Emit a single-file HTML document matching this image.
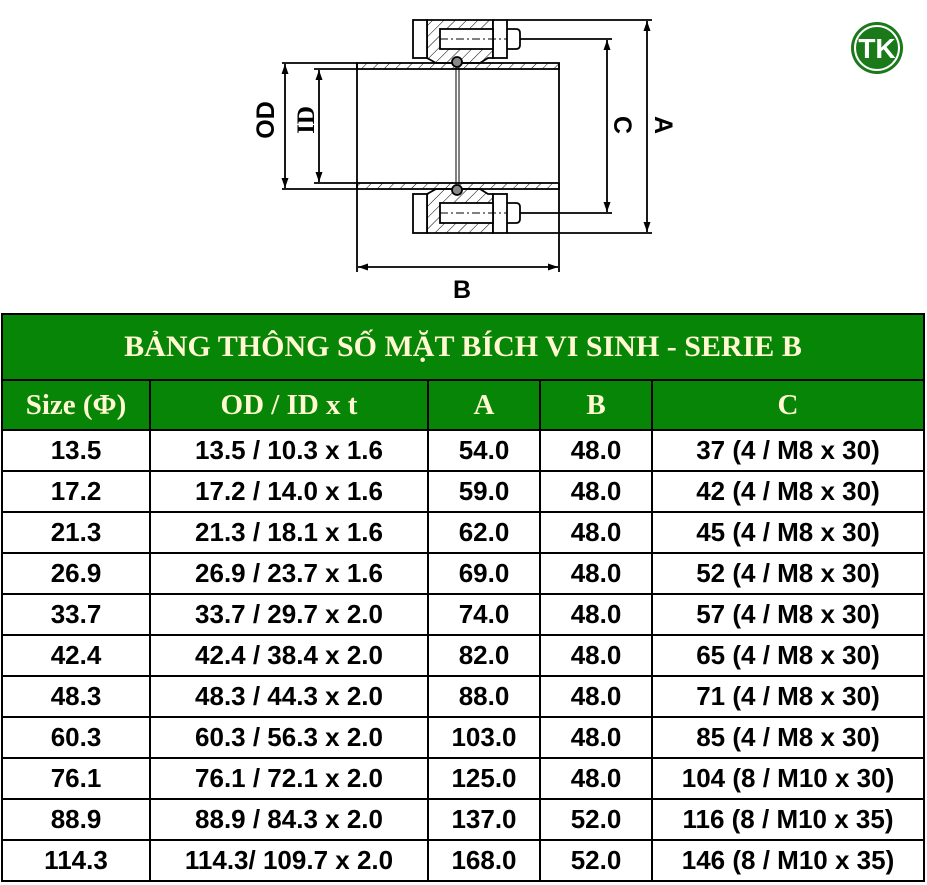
<!DOCTYPE html>
<html><head><meta charset="utf-8"><style>
body{margin:0;width:927px;height:885px;background:#fff;position:relative;overflow:hidden;font-family:"Liberation Sans",sans-serif}
table{position:absolute;left:1px;top:313px;width:924px;border-collapse:collapse;table-layout:fixed}
td{border:2px solid #000;text-align:center;padding:0;white-space:nowrap}
.t td{background:#068506;color:#fff8d0;font:bold 30px "Liberation Serif",serif;height:64px}
.h td{background:#068506;color:#fff8d0;font:bold 29px "Liberation Serif",serif;height:48px}
.d td{font:bold 26px "Liberation Sans",sans-serif;height:39px;color:#000;background:transparent}
</style></head><body>
<svg width="927" height="310" style="position:absolute;left:0;top:0">
<defs>
<pattern id="h" width="8" height="8" patternUnits="userSpaceOnUse" patternTransform="rotate(45)"><line x1="0" y1="0" x2="0" y2="8" stroke="#000" stroke-width="1"/></pattern>
<marker id="ar" viewBox="0 0 10 10" refX="10" refY="5" markerWidth="10" markerHeight="10" markerUnits="userSpaceOnUse" orient="auto-start-reverse"><path d="M0,1.5 L10,5 L0,8.5z" fill="#000"/></marker>
</defs>
<g stroke="#000" stroke-width="1.8" fill="none">
<rect x="357" y="63" width="202" height="6" fill="url(#h)"/>
<rect x="357" y="183" width="202" height="6" fill="url(#h)"/>
<line x1="357" y1="63" x2="357" y2="189"/><line x1="559" y1="63" x2="559" y2="189"/>
<path d="M427,20 H493 V58 H488 L480,63 H436 L427,58 Z" fill="url(#h)"/>
<path d="M427,233 H493 V194 H488 L480,189 H436 L427,194 Z" fill="url(#h)"/>
<rect x="413" y="20" width="14" height="38" fill="#fff"/>
<rect x="493" y="20" width="14" height="38" fill="#fff"/>
<rect x="413" y="194" width="14" height="39" fill="#fff"/>
<rect x="493" y="194" width="14" height="39" fill="#fff"/>
<rect x="440" y="29" width="53" height="20" fill="#fff"/>
<rect x="440" y="203" width="53" height="20" fill="#fff"/>
<path d="M507,29 H516 Q520,29 520,33 V45 Q520,49 516,49 H507"/>
<path d="M507,203 H516 Q520,203 520,207 V219 Q520,223 516,223 H507"/>
<line x1="440" y1="39" x2="507" y2="39" stroke-dasharray="8,3,2,3" stroke-width="1"/>
<line x1="440" y1="213" x2="507" y2="213" stroke-dasharray="8,3,2,3" stroke-width="1"/>
<circle cx="457" cy="62" r="5" fill="#888"/><circle cx="457" cy="190" r="5" fill="#888"/>
<line x1="456" y1="66" x2="456" y2="186" stroke-width="1"/><line x1="459" y1="66" x2="459" y2="186" stroke-width="1"/>
<line x1="282" y1="63" x2="357" y2="63"/><line x1="282" y1="189" x2="357" y2="189"/>
<line x1="314" y1="69" x2="357" y2="69"/><line x1="314" y1="183" x2="357" y2="183"/>
<line x1="520" y1="39" x2="612" y2="39"/><line x1="520" y1="213" x2="612" y2="213"/>
<line x1="507" y1="20" x2="652" y2="20"/><line x1="507" y1="233" x2="652" y2="233"/>
<line x1="357" y1="189" x2="357" y2="272"/><line x1="559" y1="189" x2="559" y2="272"/>
<line x1="285" y1="64" x2="285" y2="188" marker-start="url(#ar)" marker-end="url(#ar)"/>
<line x1="319" y1="70" x2="319" y2="182" marker-start="url(#ar)" marker-end="url(#ar)"/>
<line x1="607" y1="40" x2="607" y2="212" marker-start="url(#ar)" marker-end="url(#ar)"/>
<line x1="647" y1="21" x2="647" y2="232" marker-start="url(#ar)" marker-end="url(#ar)"/>
<line x1="358" y1="267" x2="558" y2="267" marker-start="url(#ar)" marker-end="url(#ar)"/>
</g>
<g font-family="Liberation Sans,sans-serif" font-weight="bold" font-size="25" fill="#000" text-anchor="middle">
<text transform="translate(274,120) rotate(-90)">OD</text>
<text transform="translate(314,120) rotate(-90)" font-family="Liberation Serif,serif">ID</text>
<text transform="translate(614,125) rotate(90)">C</text>
<text transform="translate(655,125) rotate(90)">A</text>
<text x="462" y="298">B</text>
</g>
<circle cx="877" cy="48" r="26" fill="#1a7a1a"/>
<circle cx="877" cy="48" r="22" fill="none" stroke="#fff" stroke-width="2"/>
<text x="877" y="58" text-anchor="middle" font-family="Liberation Sans,sans-serif" font-weight="bold" font-size="28" fill="#fff">TK</text>
</svg>
<table>
<colgroup><col style="width:148px"><col style="width:278px"><col style="width:112px"><col style="width:112px"><col></colgroup>
<tr class="t"><td colspan="5">BẢNG THÔNG SỐ MẶT BÍCH VI SINH - SERIE B</td></tr>
<tr class="h"><td>Size (Φ)</td><td>OD / ID x t</td><td>A</td><td>B</td><td>C</td></tr>
<tr class="d"><td>13.5</td><td>13.5 / 10.3 x 1.6</td><td>54.0</td><td>48.0</td><td>37 (4 / M8 x 30)</td></tr>
<tr class="d"><td>17.2</td><td>17.2 / 14.0 x 1.6</td><td>59.0</td><td>48.0</td><td>42 (4 / M8 x 30)</td></tr>
<tr class="d"><td>21.3</td><td>21.3 / 18.1 x 1.6</td><td>62.0</td><td>48.0</td><td>45 (4 / M8 x 30)</td></tr>
<tr class="d"><td>26.9</td><td>26.9 / 23.7 x 1.6</td><td>69.0</td><td>48.0</td><td>52 (4 / M8 x 30)</td></tr>
<tr class="d"><td>33.7</td><td>33.7 / 29.7 x 2.0</td><td>74.0</td><td>48.0</td><td>57 (4 / M8 x 30)</td></tr>
<tr class="d"><td>42.4</td><td>42.4 / 38.4 x 2.0</td><td>82.0</td><td>48.0</td><td>65 (4 / M8 x 30)</td></tr>
<tr class="d"><td>48.3</td><td>48.3 / 44.3 x 2.0</td><td>88.0</td><td>48.0</td><td>71 (4 / M8 x 30)</td></tr>
<tr class="d"><td>60.3</td><td>60.3 / 56.3 x 2.0</td><td>103.0</td><td>48.0</td><td>85 (4 / M8 x 30)</td></tr>
<tr class="d"><td>76.1</td><td>76.1 / 72.1 x 2.0</td><td>125.0</td><td>48.0</td><td>104 (8 / M10 x 30)</td></tr>
<tr class="d"><td>88.9</td><td>88.9 / 84.3 x 2.0</td><td>137.0</td><td>52.0</td><td>116 (8 / M10 x 35)</td></tr>
<tr class="d"><td>114.3</td><td>114.3/ 109.7 x 2.0</td><td>168.0</td><td>52.0</td><td>146 (8 / M10 x 35)</td></tr>
</table>
</body></html>
